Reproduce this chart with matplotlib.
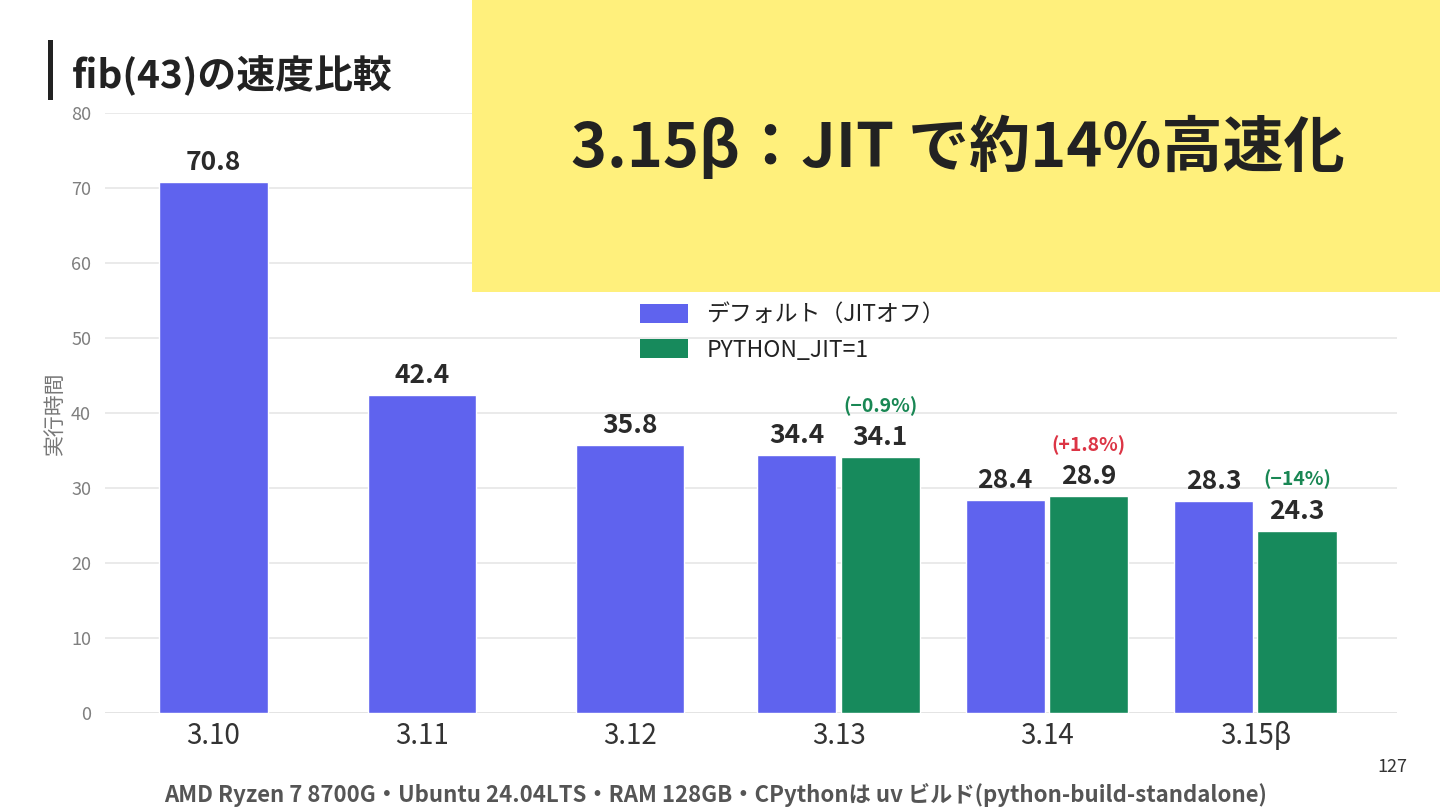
import matplotlib
matplotlib.use("Agg")
import matplotlib.pyplot as plt
from matplotlib.patches import Rectangle, Patch

plt.rcParams['font.family'] = ['Noto Sans CJK JP', 'DejaVu Sans']

versions = ['3.10', '3.11', '3.12', '3.13', '3.14', '3.15β']
default_times = [70.8, 42.4, 35.8, 34.4, 28.4, 28.3]
jit_versions = ['3.13', '3.14', '3.15β']
jit_times = [34.1, 28.9, 24.3]
jit_diffs = ['(−0.9%)', '(+1.8%)', '(−14%)']
diff_colors = ['#198754', '#DC3545', '#198754']

BLUE = '#5F63EE'
GREEN = '#178A5C'
W, H = 1440, 810

fig = plt.figure(figsize=(14.4, 8.1), dpi=100)
ax = fig.add_axes([105 / W, 1 - 713 / H, (1397 - 105) / W, 600 / H])

xpos = {v: i for i, v in enumerate(versions)}

# single bars / grouped bars
for v, t in zip(versions, default_times):
    if v in jit_versions:
        x, w = xpos[v] - 0.2, 0.38
    else:
        x, w = xpos[v], 0.52
    ax.bar(x, t, width=w, color=BLUE, edgecolor='white', linewidth=1, zorder=3)
    ax.annotate(f"{t}", (x, t), xytext=(0, 14), textcoords='offset points',
                ha='center', va='center', fontsize=19, fontweight='bold', color='#2a2a2a')

for v, t, d, c in zip(jit_versions, jit_times, jit_diffs, diff_colors):
    x = xpos[v] + 0.2
    ax.bar(x, t, width=0.38, color=GREEN, edgecolor='white', linewidth=1, zorder=3)
    ax.annotate(f"{t}", (x, t), xytext=(0, 14), textcoords='offset points',
                ha='center', va='center', fontsize=19, fontweight='bold', color='#2a2a2a')
    ax.annotate(d, (x, t), xytext=(0, 37), textcoords='offset points',
                ha='center', va='center', fontsize=14, fontweight='bold', color=c)

ax.set_xlim(-0.52, 5.68)
ax.set_ylim(0, 80)
ax.set_yticks(range(0, 81, 10))
ax.set_xticks(range(len(versions)))
ax.set_xticklabels(versions, fontsize=20, color='#333333')
ax.tick_params(axis='y', labelsize=13, labelcolor='#7f7f7f', length=0, pad=10)
ax.tick_params(axis='x', length=0, pad=6)
ax.grid(axis='y', color='#e6e6e6', linewidth=1.2, zorder=0)
ax.axhline(0, color='#dddddd', linewidth=2, zorder=1)
for s in ax.spines.values():
    s.set_visible(False)
ax.set_ylabel('実行時間', fontsize=15, color='#777777', labelpad=4)

handles = [Patch(facecolor=BLUE), Patch(facecolor=GREEN)]
ax.legend(handles, ['デフォルト（JITオフ）', 'PYTHON_JIT=1'], loc='upper left',
          bbox_to_anchor=(640 / W, 1 - 303 / H), bbox_transform=fig.transFigure,
          frameon=False, fontsize=16.5, handlelength=2.1, handleheight=0.9,
          handletextpad=0.8, labelspacing=0.55, borderpad=0, borderaxespad=0,
          labelcolor='#222222')

# title with bar on the left
fig.patches.append(Rectangle((48 / W, 1 - 100 / H), 5 / W, 60 / H, transform=fig.transFigure,
                             facecolor='#222222', zorder=2))
fig.text(72 / W, 1 - 75 / H, 'fib(43)の速度比較', fontsize=28, fontweight='bold',
         color='#222222', ha='left', va='center')

# yellow callout on top of chart
fig.patches.append(Rectangle((472 / W, 1 - 292 / H), (W - 472) / W, 292 / H,
                             transform=fig.transFigure, facecolor='#FFF07C', zorder=5))
fig.text(958 / W, 1 - 148 / H, '3.15β：JIT で約14%高速化', fontsize=44, fontweight='bold',
         color='#222222', ha='center', va='center', zorder=6)

fig.text(1392 / W, 1 - 767 / H, '127', fontsize=13, color='#333333', ha='center', va='center')
# footer sits at the very bottom edge
fig.text(716 / W, 3 / H,
         'AMD Ryzen 7 8700G・Ubuntu 24.04LTS・RAM 128GB・CPythonは uv ビルド(python-build-standalone)',
         fontsize=16, fontweight='bold', color='#555555', ha='center', va='bottom')

fig.savefig('out.png', dpi=100, facecolor='white')
